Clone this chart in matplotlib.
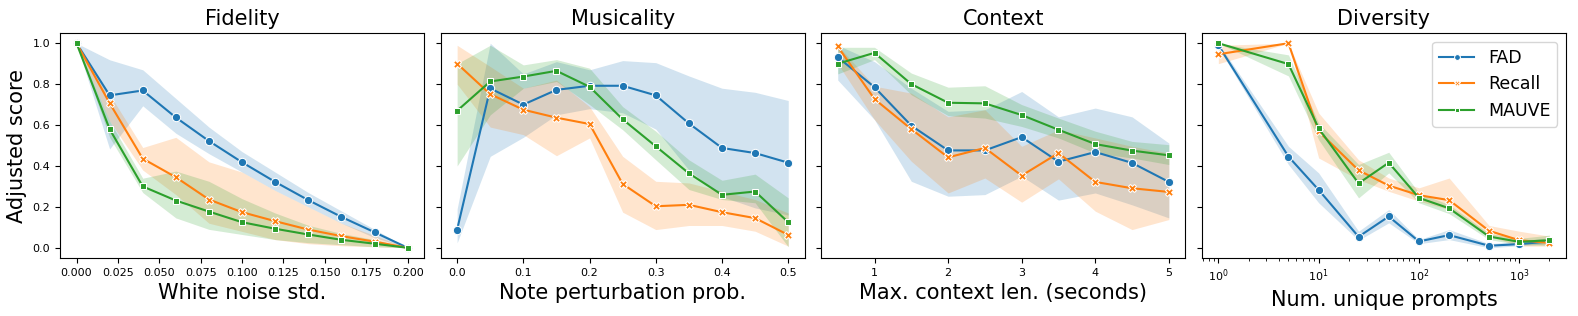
import matplotlib
matplotlib.use("Agg")
import matplotlib.pyplot as plt
import numpy as np

# ---- data ----
fid_x = [0.0, 0.02, 0.04, 0.06, 0.08, 0.10, 0.12, 0.14, 0.16, 0.18, 0.20]
fid_fad = [1.0, 0.745, 0.769, 0.637, 0.522, 0.418, 0.322, 0.233, 0.151, 0.076, 0.0]
fid_fad_lo = [1.0, 0.483, 0.694, 0.56, 0.46, 0.37, 0.28, 0.20, 0.12, 0.05, 0.0]
fid_fad_hi = [1.0, 0.919, 0.87, 0.73, 0.59, 0.47, 0.37, 0.27, 0.18, 0.09, 0.0]
fid_rec = [1.0, 0.707, 0.436, 0.345, 0.236, 0.174, 0.13, 0.089, 0.057, 0.03, 0.0]
fid_rec_lo = [1.0, 0.62, 0.38, 0.26, 0.12, 0.08, 0.04, 0.02, 0.01, 0.005, 0.0]
fid_rec_hi = [1.0, 0.75, 0.49, 0.54, 0.42, 0.37, 0.28, 0.20, 0.12, 0.06, 0.0]
fid_mau = [1.0, 0.58, 0.30, 0.231, 0.177, 0.125, 0.093, 0.065, 0.039, 0.02, 0.0]
fid_mau_lo = [1.0, 0.54, 0.27, 0.146, 0.09, 0.065, 0.04, 0.025, 0.015, 0.005, 0.0]
fid_mau_hi = [1.0, 0.62, 0.34, 0.375, 0.325, 0.24, 0.17, 0.11, 0.07, 0.04, 0.0]

mus_x = [0.0, 0.05, 0.10, 0.15, 0.20, 0.25, 0.30, 0.35, 0.40, 0.45, 0.50]
mus_fad = [0.089, 0.779, 0.70, 0.772, 0.792, 0.792, 0.745, 0.608, 0.488, 0.463, 0.416]
mus_fad_lo = [0.024, 0.447, 0.54, 0.65, 0.68, 0.66, 0.58, 0.38, 0.25, 0.195, 0.16]
mus_fad_hi = [0.19, 1.0, 0.85, 0.91, 0.87, 0.915, 0.905, 0.84, 0.78, 0.76, 0.72]
mus_rec = [0.90, 0.751, 0.675, 0.636, 0.605, 0.312, 0.203, 0.21, 0.174, 0.145, 0.063]
mus_rec_lo = [0.80, 0.59, 0.553, 0.45, 0.537, 0.174, 0.089, 0.109, 0.109, 0.081, 0.008]
mus_rec_hi = [0.99, 0.886, 0.78, 0.82, 0.69, 0.447, 0.325, 0.317, 0.276, 0.236, 0.17]
mus_mau = [0.67, 0.813, 0.837, 0.865, 0.787, 0.628, 0.496, 0.364, 0.259, 0.275, 0.125]
mus_mau_lo = [0.40, 0.65, 0.78, 0.813, 0.70, 0.577, 0.43, 0.285, 0.236, 0.22, 0.005]
mus_mau_hi = [0.90, 0.99, 0.894, 0.92, 0.878, 0.69, 0.57, 0.43, 0.33, 0.36, 0.244]

ctx_x = [0.5, 1.0, 1.5, 2.0, 2.5, 3.0, 3.5, 4.0, 4.5, 5.0]
ctx_fad = [0.932, 0.785, 0.597, 0.476, 0.476, 0.541, 0.421, 0.468, 0.415, 0.322]
ctx_fad_lo = [0.82, 0.626, 0.325, 0.252, 0.26, 0.35, 0.233, 0.268, 0.21, 0.146]
ctx_fad_hi = [0.99, 0.91, 0.78, 0.667, 0.675, 0.764, 0.64, 0.683, 0.64, 0.512]
ctx_rec = [0.984, 0.727, 0.58, 0.442, 0.488, 0.353, 0.463, 0.322, 0.291, 0.273]
ctx_rec_lo = [0.90, 0.626, 0.423, 0.268, 0.341, 0.223, 0.337, 0.179, 0.089, 0.138]
ctx_rec_hi = [0.99, 0.79, 0.756, 0.64, 0.675, 0.496, 0.577, 0.537, 0.496, 0.463]
ctx_mau = [0.90, 0.953, 0.80, 0.709, 0.706, 0.649, 0.577, 0.507, 0.475, 0.452]
ctx_mau_lo = [0.85, 0.92, 0.748, 0.646, 0.634, 0.593, 0.537, 0.463, 0.439, 0.407]
ctx_mau_hi = [0.98, 0.98, 0.854, 0.785, 0.792, 0.70, 0.634, 0.57, 0.52, 0.504]

div_x = [1, 5, 10, 25, 50, 100, 200, 500, 1000, 2000]
div_fad = [0.99, 0.446, 0.283, 0.054, 0.153, 0.031, 0.062, 0.01, 0.018, 0.031]
div_fad_lo = [0.98, 0.407, 0.22, 0.037, 0.122, 0.02, 0.04, 0.0, 0.01, 0.02]
div_fad_hi = [1.0, 0.496, 0.366, 0.081, 0.187, 0.04, 0.089, 0.02, 0.03, 0.05]
div_rec = [0.946, 1.0, 0.569, 0.379, 0.304, 0.257, 0.233, 0.083, 0.037, 0.024]
div_rec_lo = [0.90, 1.0, 0.439, 0.333, 0.276, 0.228, 0.187, 0.057, 0.008, 0.008]
div_rec_hi = [0.99, 1.0, 0.659, 0.43, 0.341, 0.293, 0.341, 0.109, 0.081, 0.057]
div_mau = [1.0, 0.898, 0.584, 0.315, 0.416, 0.244, 0.193, 0.055, 0.029, 0.037]
div_mau_lo = [1.0, 0.84, 0.528, 0.244, 0.366, 0.22, 0.167, 0.04, 0.016, 0.011]
div_mau_hi = [1.0, 0.943, 0.61, 0.407, 0.467, 0.268, 0.211, 0.07, 0.046, 0.062]

titles = ["Fidelity", "Musicality", "Context", "Diversity"]
xlabels = ["White noise std.", "Note perturbation prob.",
           "Max. context len. (seconds)", "Num. unique prompts"]
metrics = ["FAD", "Recall", "MAUVE"]

colors = ["#1f77b4", "#ff7f0e", "#2ca02c"]
markers = ["o", "X", "s"]
msizes = [6, 6, 4.5]

panels = [
    (fid_x, [(fid_fad, fid_fad_lo, fid_fad_hi), (fid_rec, fid_rec_lo, fid_rec_hi),
             (fid_mau, fid_mau_lo, fid_mau_hi)]),
    (mus_x, [(mus_fad, mus_fad_lo, mus_fad_hi), (mus_rec, mus_rec_lo, mus_rec_hi),
             (mus_mau, mus_mau_lo, mus_mau_hi)]),
    (ctx_x, [(ctx_fad, ctx_fad_lo, ctx_fad_hi), (ctx_rec, ctx_rec_lo, ctx_rec_hi),
             (ctx_mau, ctx_mau_lo, ctx_mau_hi)]),
    (div_x, [(div_fad, div_fad_lo, div_fad_hi), (div_rec, div_rec_lo, div_rec_hi),
             (div_mau, div_mau_lo, div_mau_hi)]),
]

fig, axes = plt.subplots(1, 4, figsize=(15.78, 3.16), dpi=100, sharey=True)
fig.subplots_adjust(left=0.038, right=0.9924, top=0.8956, bottom=0.1835, wspace=0.045)

for i, (ax, (x, series)) in enumerate(zip(axes, panels)):
    for j, (y, lo, hi) in enumerate(series):
        ax.fill_between(x, lo, hi, color=colors[j], alpha=0.2, linewidth=0)
        ax.plot(x, y, color=colors[j], marker=markers[j], markersize=msizes[j],
                markeredgecolor="white", markeredgewidth=0.75, linewidth=1.5,
                label=metrics[j])
    ax.set_title(titles[i], fontsize=15)
    ax.set_xlabel(xlabels[i], fontsize=15)
    ax.tick_params(labelsize=8)

axes[0].set_ylabel("Adjusted score", fontsize=15)
axes[0].set_yticks([0.0, 0.2, 0.4, 0.6, 0.8, 1.0])
axes[0].set_xticks(np.arange(0, 0.201, 0.025))
axes[1].set_xticks([0.0, 0.1, 0.2, 0.3, 0.4, 0.5])
axes[2].set_xticks([1, 2, 3, 4, 5])
axes[3].set_xscale("log")

axes[3].legend(loc="upper right", fontsize=12.5, markerscale=0.7)

fig.savefig("out.png", dpi=100)
